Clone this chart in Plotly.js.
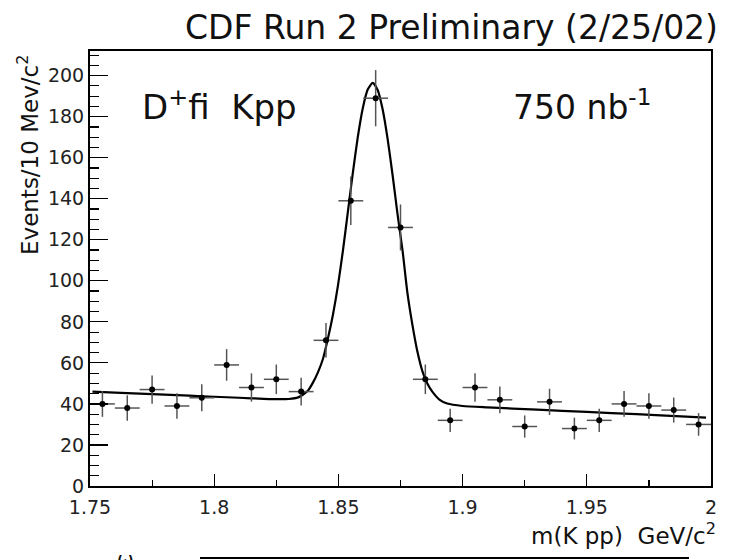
<!DOCTYPE html>
<html>
<head>
<meta charset="utf-8">
<script src="https://cdn.plot.ly/plotly-3.0.1.min.js"></script>
<style>html,body{margin:0;padding:0;background:#fff;}#chart{width:735px;height:560px;}</style>
</head>
<body>
<div id="chart"></div>
<script>
// Bin centres (GeV/c^2) and events per 10 MeV/c^2
const binCenters = [1.755,1.765,1.775,1.785,1.795,1.805,1.815,1.825,1.835,1.845,
                    1.855,1.865,1.875,1.885,1.895,1.905,1.915,1.925,1.935,1.945,
                    1.955,1.965,1.975,1.985,1.995];
const binCounts  = [40,38,47,39,43,59,48,52,46,71,
                    139,189,126,52,32,48,42,29,41,28,
                    32,40,39,37,30];
const countErrors = [6.3,6.2,6.9,6.2,6.6,7.7,6.9,7.2,6.8,8.4,
                     11.8,13.7,11.2,7.2,5.7,6.9,6.5,5.4,6.4,5.3,
                     5.7,6.3,6.2,6.1,5.5];
const binHalfWidth = 0.005;

// Fit curve
const fitX = [1.751,1.76,1.77,1.78,1.79,1.80,1.81,1.82,1.826,1.830,
              1.8338,1.8358,1.8378,1.8398,1.8418,1.8438,1.8458,1.8478,1.8498,1.8518,
              1.8538,1.8558,1.8578,1.8598,1.8618,1.8638,1.8658,1.8678,1.8698,1.8718,
              1.8738,1.8758,1.8778,1.8798,1.8818,1.8838,1.8858,1.8878,1.8908,1.8938,
              1.90,1.91,1.93,1.95,1.97,1.99,1.998];
const fitY = [46.0,45.5,45.0,44.5,44.0,43.5,43.0,42.5,42.3,42.4,
              43.2,44.6,46.6,50.5,55.5,62.0,72.0,83.5,97.5,114.5,
              133.5,152.5,170.0,184.0,193.2,196.5,193.0,183.6,169.3,151.7,
              132.5,115.0,94.0,78.5,65.5,56.0,50.0,46.0,42.0,40.2,
              39.0,38.3,37.2,36.1,35.0,33.8,33.3];

const xTickVals = [1.75,1.8,1.85,1.9,1.95,2];
const xTickText = ['1.75','1.8','1.85','1.9','1.95','2'];
const yTickVals = [0,20,40,60,80,100,120,140,160,180,200];

const txtFont = 'DejaVu Sans, Verdana, sans-serif';

const traces = [
  {
    x: fitX, y: fitY, type: 'scatter', mode: 'lines',
    line: {color: '#000', width: 2.2, shape: 'spline', smoothing: 0.6},
    hoverinfo: 'skip', showlegend: false
  },
  {
    x: binCenters, y: binCounts, type: 'scatter', mode: 'markers',
    marker: {color: '#000', size: 6, symbol: 'circle'},
    error_y: {type: 'data', array: countErrors, visible: true, color: '#555', thickness: 1.5, width: 0},
    error_x: {type: 'constant', value: binHalfWidth, visible: true, color: '#555', thickness: 1.5, width: 0},
    showlegend: false
  }
];

const layout = {
  width: 735, height: 560,
  margin: {l: 90, r: 24, t: 51, b: 74},
  paper_bgcolor: '#fff', plot_bgcolor: '#fff',
  font: {family: txtFont, color: '#222'},
  title: {
    text: 'CDF Run 2 Preliminary (2/25/02)',
    font: {family: txtFont, size: 33, color: '#111'},
    x: 718/735, xanchor: 'right', xref: 'container',
    y: 1 - 27/560, yanchor: 'middle', yref: 'container'
  },
  xaxis: {
    range: [1.75, 2], showgrid: false, zeroline: false,
    showline: true, linecolor: '#000', linewidth: 2, mirror: true,
    ticks: 'inside', ticklen: 12, tickwidth: 1.2, tickcolor: '#000',
    tickvals: xTickVals, ticktext: xTickText, ticklabelstandoff: 3,
    tickfont: {family: txtFont, size: 19, color: '#222'},
    minor: {dtick: 0.025, ticks: 'inside', ticklen: 6, tickwidth: 1.2, tickcolor: '#000', showgrid: false}
  },
  yaxis: {
    range: [0, 212], showgrid: false, zeroline: false,
    showline: true, linecolor: '#000', linewidth: 2, mirror: true,
    ticks: 'inside', ticklen: 18, tickwidth: 1.2, tickcolor: '#000',
    tickvals: yTickVals,
    tickfont: {family: txtFont, size: 19, color: '#222'},
    minor: {dtick: 5, ticks: 'inside', ticklen: 9, tickwidth: 1.2, tickcolor: '#000', showgrid: false}
  },
  annotations: [
    {text: 'D<sup>+</sup>fi  Kpp', xref: 'paper', yref: 'paper',
     x: (140 - 90)/621, y: (486 - 105)/435, xanchor: 'left', yanchor: 'middle',
     showarrow: false, font: {family: txtFont, size: 34, color: '#111'}},
    {text: '750 nb<sup>-1</sup>', xref: 'paper', yref: 'paper',
     x: (511 - 90)/621, y: (486 - 105)/435, xanchor: 'left', yanchor: 'middle',
     showarrow: false, font: {family: txtFont, size: 33, color: '#111'}},
    {text: 'm(K pp)  GeV/c<sup>2</sup>', xref: 'paper', yref: 'paper',
     x: (718 - 90)/621, y: (486 - 534)/435, xanchor: 'right', yanchor: 'middle',
     showarrow: false, font: {family: txtFont, size: 23, color: '#111'}},
    {text: 'Events/10 Mev/c<sup>2</sup>', xref: 'paper', yref: 'paper', textangle: -90,
     x: (28 - 90)/621, y: (486 - 155)/435, xanchor: 'center', yanchor: 'middle',
     showarrow: false, font: {family: txtFont, size: 23, color: '#111'}},
    {text: 'ω', xref: 'paper', yref: 'paper',
     x: (125 - 90)/621, y: (486 - 545)/435, xanchor: 'center', yanchor: 'top',
     showarrow: false, font: {family: txtFont, size: 20, color: '#111'}}
  ],
  shapes: [
    {type: 'line', xref: 'paper', yref: 'paper',
     x0: (200 - 90)/621, x1: (689 - 90)/621, y0: (486 - 558)/435, y1: (486 - 558)/435,
     line: {color: '#000', width: 2}}
  ]
};

Plotly.newPlot('chart', traces, layout, {displayModeBar: false, staticPlot: true});
</script>
</body>
</html>
